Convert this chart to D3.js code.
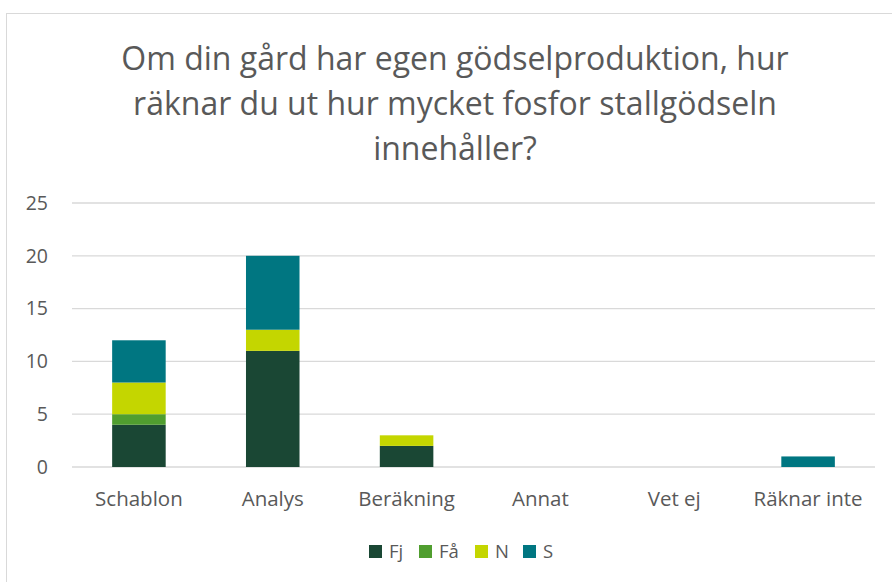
<!DOCTYPE html>
<html>
<head>
<meta charset="utf-8">
<script src="https://cdn.jsdelivr.net/npm/d3@7"></script>
<style>
  body { margin: 0; background: #fff; }
  svg { font-family: "Open Sans", sans-serif; }
  .grid line { stroke: #d9d9d9; stroke-width: 1.3; }
</style>
</head>
<body>
<div id="chart"></div>
<script>
const categories = ["Schablon", "Analys", "Beräkning", "Annat", "Vet ej", "Räknar inte"];
const seriesNames = ["Fj", "Få", "N", "S"];
const fj = [4, 11, 2, 0, 0, 0];
const fa = [1, 0, 0, 0, 0, 0];
const n = [3, 2, 1, 0, 0, 0];
const s = [4, 7, 0, 0, 0, 1];
const yTicks = [0, 5, 10, 15, 20, 25];
const colors = ["#1a4734", "#509e2f", "#c4d600", "#007681"];
const titleLines = [
  "Om din gård har egen gödselproduktion, hur",
  "räknar du ut hur mycket fosfor stallgödseln",
  "innehåller?"
];

const width = 892, height = 582;
const margin = { top: 203, right: 17, bottom: 115, left: 72 };

const svg = d3.select("#chart").append("svg")
  .attr("width", width).attr("height", height);

// chart frame
svg.append("rect")
  .attr("x", 6.5).attr("y", 13.5)
  .attr("width", 900).attr("height", 600)
  .attr("fill", "#fff").attr("stroke", "#d9d9d9");

const table = categories.map((c, i) => ({
  cat: c, Fj: fj[i], "Få": fa[i], N: n[i], S: s[i]
}));
const stacked = d3.stack().keys(seriesNames)(table);

const x = d3.scaleBand()
  .domain(categories)
  .range([margin.left, width - margin.right])
  .paddingInner(0.6).paddingOuter(0.3);

const y = d3.scaleLinear()
  .domain([0, 25])
  .range([height - margin.bottom, margin.top]);

// gridlines
svg.append("g").attr("class", "grid")
  .selectAll("line").data(yTicks).join("line")
  .attr("x1", margin.left).attr("x2", width - margin.right)
  .attr("y1", d => y(d)).attr("y2", d => y(d));

// y labels
svg.append("g")
  .selectAll("text").data(yTicks).join("text")
  .attr("x", 48).attr("y", d => y(d))
  .attr("dy", "0.35em")
  .attr("text-anchor", "end")
  .attr("font-size", 19.5)
  .attr("fill", "#595959")
  .text(d => d);

// bars
svg.append("g")
  .selectAll("g").data(stacked).join("g")
  .attr("fill", (d, i) => colors[i])
  .selectAll("rect").data(d => d.filter(p => p[1] > p[0])).join("rect")
  .attr("x", d => x(d.data.cat))
  .attr("width", x.bandwidth())
  .attr("y", d => y(d[1]))
  .attr("height", d => y(d[0]) - y(d[1]));

// category labels
svg.append("g")
  .selectAll("text").data(categories).join("text")
  .attr("x", d => x(d) + x.bandwidth() / 2)
  .attr("y", 506)
  .attr("text-anchor", "middle")
  .attr("font-size", 20.5)
  .attr("fill", "#595959")
  .text(d => d);

// title
svg.append("g")
  .selectAll("text").data(titleLines).join("text")
  .attr("x", 455)
  .attr("y", (d, i) => 70 + i * 45)
  .attr("text-anchor", "middle")
  .attr("font-size", 32)
  .attr("fill", "#595959")
  .text(d => d);

// legend
const legendX = [369, 419, 475, 523];
const legend = svg.append("g")
  .selectAll("g").data(seriesNames).join("g")
  .attr("transform", (d, i) => `translate(${legendX[i]},545)`);
legend.append("rect")
  .attr("width", 13).attr("height", 13)
  .attr("fill", (d, i) => colors[i]);
legend.append("text")
  .attr("x", 20).attr("y", 13)
  .attr("font-size", 18.5)
  .attr("fill", "#595959")
  .text(d => d);
</script>
</body>
</html>
